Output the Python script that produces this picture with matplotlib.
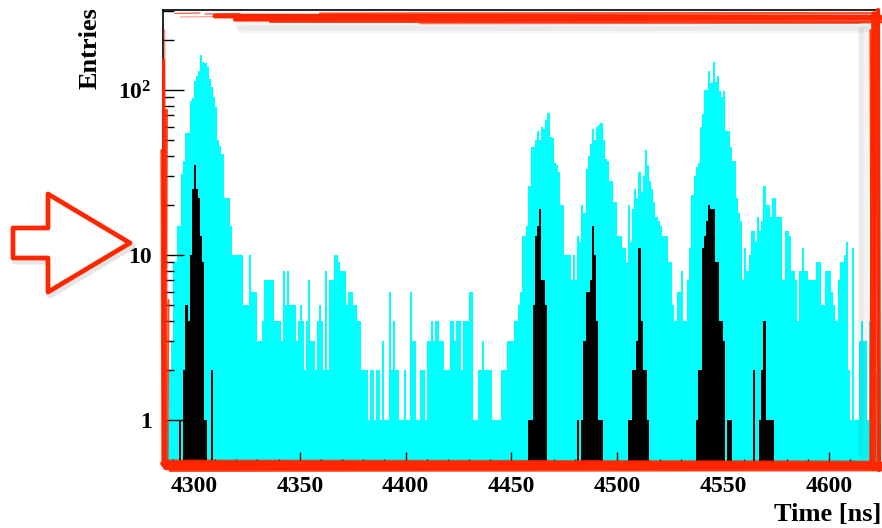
import numpy as np
import matplotlib
matplotlib.use('Agg')
import matplotlib.pyplot as plt
from matplotlib.patches import Polygon
from matplotlib.ticker import FixedLocator, NullFormatter, MultipleLocator

plt.rcParams['font.family'] = ['Liberation Serif', 'DejaVu Serif']
plt.rcParams['font.weight'] = 'bold'
plt.rcParams['mathtext.fontset'] = 'custom'
plt.rcParams['mathtext.rm'] = 'Liberation Serif:bold'
plt.rcParams['mathtext.it'] = 'Liberation Serif:bold'
plt.rcParams['mathtext.bf'] = 'Liberation Serif:bold'

# ---------------- data (1 ns bins) ----------------
first_bin = 4286
cyan_counts = [
    1, 1, 2, 3, 9, 9, 15, 15, 31, 37,
    55, 55, 86, 89, 113, 121, 131, 163, 148, 145,
    138, 116, 104, 90, 79, 50, 46, 41, 22, 22,
    22, 15, 10, 10, 10, 10, 10, 5, 5, 5,
    10, 6, 6, 6, 3, 3, 4, 7, 7, 7,
    7, 7, 4, 4, 4, 3, 8, 5, 8, 5,
    5, 5, 3, 4, 5, 4, 2, 4, 7, 3,
    3, 2, 4, 5, 4, 2, 8, 2, 7, 7,
    10, 10, 9, 8, 8, 8, 5, 6, 6, 5,
    5, 4, 4, 2, 2, 2, 1, 2, 2, 1,
    2, 2, 1, 3, 1, 1, 6, 2, 4, 2,
    2, 1, 1, 2, 1, 1, 6, 3, 3, 1,
    1, 2, 2, 1, 3, 3, 4, 3, 4, 4,
    3, 3, 2, 2, 2, 4, 4, 3, 4, 4,
    2, 4, 4, 4, 6, 6, 1, 1, 2, 2,
    3, 2, 2, 2, 2, 1, 1, 1, 1, 2,
    2, 2, 3, 3, 3, 4, 4, 5, 6, 13,
    13, 15, 26, 45, 45, 50, 56, 50, 60, 58,
    66, 72, 52, 51, 36, 35, 32, 20, 20, 10,
    10, 10, 7, 10, 7, 13, 12, 20, 18, 33,
    40, 47, 58, 50, 60, 61, 63, 50, 38, 37,
    28, 28, 21, 21, 13, 13, 11, 11, 9, 20,
    12, 19, 25, 22, 32, 24, 30, 43, 35, 28,
    25, 21, 17, 16, 15, 13, 13, 13, 9, 9,
    5, 4, 6, 6, 8, 4, 4, 7, 11, 23,
    30, 34, 36, 60, 71, 100, 100, 130, 110, 148,
    112, 122, 98, 91, 98, 56, 56, 45, 37, 37,
    22, 18, 16, 7, 11, 8, 10, 14, 14, 12,
    17, 14, 16, 26, 20, 20, 17, 22, 22, 17,
    17, 17, 7, 14, 14, 13, 8, 8, 7, 4,
    8, 11, 8, 8, 7, 7, 7, 7, 9, 9,
    5, 5, 8, 8, 8, 6, 5, 4, 7, 9,
    9, 10, 12, 2, 1, 11, 1, 1, 3, 4,
    3, 3, 1, 4, 4, 3, 2, 2,
]
black_bins = [
    4293, 4295, 4296, 4297, 4298, 4299, 4300, 4301, 4302, 4303, 4304, 4305, 4308,
    4458, 4459, 4460, 4461, 4462, 4463, 4464, 4465, 4466,
    4481, 4483, 4484, 4485, 4486, 4487, 4488, 4489, 4490, 4491, 4492,
    4505, 4506, 4507, 4508, 4509, 4510, 4511, 4512, 4513, 4514,
    4537, 4538, 4539, 4540, 4541, 4542, 4543, 4544, 4545, 4546, 4547, 4548,
    4549, 4550, 4552, 4553,
    4564, 4567, 4568, 4569, 4570, 4571, 4572, 4573,
]
black_counts = [
    1, 2, 5, 4, 10, 25, 35, 25, 22, 13, 9, 1, 2,
    1, 1, 5, 13, 15, 19, 7, 7, 5,
    1, 1, 3, 6, 6, 7, 15, 10, 4, 1, 1,
    1, 1, 2, 2, 3, 11, 4, 2, 2, 1,
    1, 2, 2, 11, 13, 16, 20, 19, 19, 9, 9, 4,
    4, 3, 1, 1,
    2, 1, 2, 4, 1, 1, 1, 1,
]
x_ticks = [4300, 4350, 4400, 4450, 4500, 4550, 4600]
y_ticks = [1, 10, 100]
y_tick_labels = ['1', '10', r'$10^{2}$']
x_title = 'Time [ns]'
y_title = 'Entries'

# ---------------- figure ----------------
cyan = np.array(cyan_counts, dtype=float)
edges = first_bin + np.arange(len(cyan) + 1)
black = np.zeros_like(cyan)
for b, n in zip(black_bins, black_counts):
    black[b - first_bin] = n

W, H = 882, 528
fig = plt.figure(figsize=(W / 100, H / 100), dpi=100)
L, R, T, B = 163, 879, 10, 466
ax = fig.add_axes([L / W, 1 - B / H, (R - L) / W, (B - T) / H])
ax.set_yscale('log')
floor = 1e-3
ax.stairs(np.where(cyan > 0, cyan, floor), edges, fill=True,
          color='#00ffff', baseline=floor, lw=0)
ax.stairs(np.where(black > 0, black, floor), edges, fill=True,
          color='black', baseline=floor, lw=0)
ax.set_xlim(4285.4, 4623.6)
ax.set_ylim(0.526, 305)

ax.xaxis.set_major_locator(FixedLocator(x_ticks))
ax.xaxis.set_minor_locator(MultipleLocator(10))
ax.yaxis.set_major_locator(FixedLocator(y_ticks))
ax.set_yticklabels(y_tick_labels)
ax.yaxis.set_minor_locator(FixedLocator(
    [2, 3, 4, 5, 6, 7, 8, 9, 20, 30, 40, 50, 60, 70, 80, 90, 200, 300]))
ax.yaxis.set_minor_formatter(NullFormatter())
ax.tick_params(which='both', direction='in', top=False, right=False, color='black')
ax.tick_params(axis='y', which='major', length=15, width=1, pad=8, labelsize=17)
ax.tick_params(axis='y', which='minor', length=8, width=1)
ax.tick_params(axis='x', which='major', length=10, width=1, pad=7, labelsize=17)
ax.tick_params(axis='x', which='minor', length=5, width=1)
for lab in ax.get_xticklabels() + ax.get_yticklabels():
    lab.set_fontweight('bold')
for s in ax.spines.values():
    s.set_linewidth(1.2)
    s.set_color('black')

fig.text(90 / W, 1 - 7 / H, y_title, rotation=90, ha='center', va='top',
         fontsize=19, fontweight='bold')
fig.text(881 / W, 1 - 514 / H, x_title, ha='right', va='center',
         fontsize=19, fontweight='bold')

# ---------------- red hand-drawn annotations (pixel overlay) ----------------
ov = fig.add_axes([0, 0, 1, 1], zorder=10)
ov.set_xlim(0, W)
ov.set_ylim(H, 0)
ov.axis('off')
ov.patch.set_alpha(0)

red = '#ff2600'
# soft shadows (top band and right band only)
shadow_strokes = [
    ((240, 865), (26, 26), 7, 0.08),
    ((240, 865), (29, 29), 5, 0.06),
    ((864, 864), (30, 455), 7, 0.08),
    ((861, 861), (30, 455), 4, 0.06),
]
for xs, ys, lw, a in shadow_strokes:
    ov.plot(xs, ys, color='0.4', lw=lw, alpha=a, solid_capstyle='round')

frame_strokes = [
    # top
    ((175, 200), (13.5, 13), 1.0, 0.7),
    ((205, 240), (14, 13.5), 1.0, 0.7),
    ((180, 230), (17, 16.5), 0.8, 0.5),
    ((215, 880), (16, 17), 3.5, 1.0),
    ((235, 882), (19.5, 18.5), 3.0, 1.0),
    ((270, 882), (21.5, 22), 2.0, 0.9),
    ((320, 872), (13.5, 13), 1.6, 0.8),
    ((420, 860), (23.5, 23), 1.2, 0.6),
    # right
    ((874, 872), (14, 468), 4.0, 1.0),
    ((878, 879), (10, 470), 3.0, 1.0),
    ((870.5, 872), (30, 462), 1.6, 0.9),
    ((876, 875.5), (20, 465), 1.5, 0.9),
    # bottom
    ((163, 882), (463.5, 464.5), 4.0, 1.0),
    ((166, 880), (467.5, 466.5), 4.0, 1.0),
    ((170, 882), (470.5, 470), 2.0, 0.9),
    ((163, 870), (460.5, 461.5), 1.5, 0.8),
    # left
    ((163.5, 164.5), (60, 468), 2.2, 1.0),
    ((166.5, 165.5), (110, 466), 2.0, 0.9),
    ((161.5, 162.5), (150, 466), 1.6, 0.9),
    ((168.5, 167.5), (300, 465), 1.5, 0.8),
    ((164.5, 165.5), (30, 260), 1.2, 0.5),
]
for xs, ys, lw, a in frame_strokes:
    ov.plot(xs, ys, color=red, lw=lw, alpha=a, solid_capstyle='round')

arrow_pts = [(13, 228), (48, 228), (48, 194), (130, 243),
             (48, 292), (48, 258), (13, 258)]
shadow_pts = [(x + 2, y + 3) for x, y in arrow_pts]
ov.add_patch(Polygon(shadow_pts, closed=True, fc='none', ec='0.5', lw=5,
                     alpha=0.2, joinstyle='round'))
ov.add_patch(Polygon(arrow_pts, closed=True, fc='white', ec=red, lw=3.4,
                     joinstyle='round'))

fig.savefig('out.png', dpi=100)
